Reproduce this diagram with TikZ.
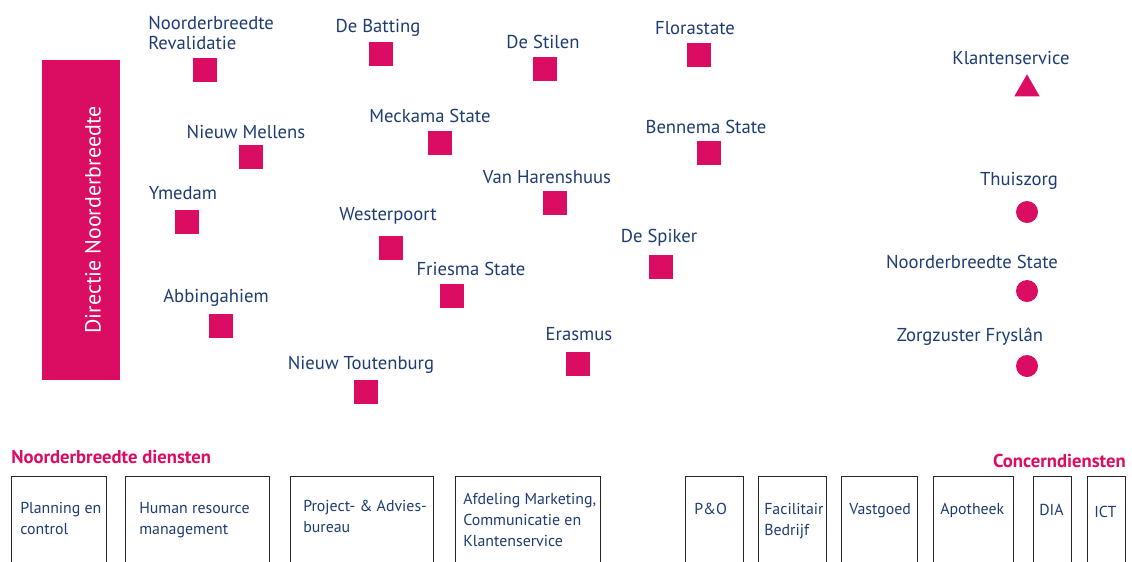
\documentclass[tikz,border=0pt]{standalone}
\usepackage{fontspec}
\setmainfont{PT Sans}
\usetikzlibrary{shapes.geometric}
\definecolor{nbmagenta}{HTML}{DB0D62}
\definecolor{nbnavy}{HTML}{1F3C72}
\tikzset{
  loc/.style={fill=nbmagenta, draw=none, minimum size=18pt, inner sep=0pt},
  circ/.style={circle, fill=nbmagenta, draw=none, minimum size=16.5pt, inner sep=0pt},
  tri/.style={regular polygon, regular polygon sides=3, fill=nbmagenta, draw=none, minimum size=22pt, inner sep=0pt},
  lbl/.style={text=nbnavy, font=\fontsize{14}{15.5}\selectfont, inner sep=0pt, align=left},
  head/.style={text=nbmagenta, font=\fontsize{14}{16}\selectfont\bfseries, inner sep=0pt},
  box/.style={draw=black!85, line width=1.1pt, inner sep=0pt},
  boxtext/.style={text=nbnavy, font=\fontsize{11.9}{15.75}\selectfont, inner sep=0pt, align=left, anchor=north west}
}
\begin{document}
\begin{tikzpicture}[x=0.75pt, y=-0.75pt]
\useasboundingbox (0,0) rectangle (1132,561);
\clip (0,0) rectangle (1132,561);
\fill[white] (0,0) rectangle (1132,561);

% management bar
\node[fill=nbmagenta, minimum width=58.5pt, minimum height=240pt, inner sep=0pt, anchor=north west] (dir) at (42,60) {};
\node[text=white, font=\fontsize{16.5}{18}\selectfont, rotate=90, inner sep=0pt] (dirtext) at (93,220) {Directie Noorderbreedte};

% locations (squares)
\node[loc] (revs) at (205,70) {};
\node[lbl, anchor=west] (revl) at (148,33) {Noorderbreedte\\Revalidatie};
\node[loc] (bats) at (381,54) {};
\node[lbl] (batl) at (378,28) {De Batting};
\node[loc] (stis) at (545,69) {};
\node[lbl] (stil) at (543,42) {De Stilen};
\node[loc] (flos) at (699,55) {};
\node[lbl] (flol) at (695,28) {Florastate};
\node[loc] (meks) at (440,143) {};
\node[lbl] (mekl) at (430,116) {Meckama State};
\node[loc] (mels) at (251,157) {};
\node[lbl] (mell) at (246,132) {Nieuw Mellens};
\node[loc] (bens) at (709,153) {};
\node[lbl] (benl) at (706,127) {Bennema State};
\node[loc] (ymes) at (187,222) {};
\node[lbl] (ymel) at (183,193) {Ymedam};
\node[loc] (hars) at (555,203) {};
\node[lbl] (harl) at (547,177) {Van Harenshuus};
\node[loc] (wess) at (391,248) {};
\node[lbl] (wesl) at (388,216) {Westerpoort};
\node[loc] (spis) at (661,267) {};
\node[lbl] (spil) at (659,238) {De Spiker};
\node[loc] (fris) at (452,296) {};
\node[lbl] (fril) at (471,269) {Friesma State};
\node[loc] (abbs) at (221,326) {};
\node[lbl] (abbl) at (216,298) {Abbingahiem};
\node[loc] (eras) at (578,364) {};
\node[lbl] (eral) at (579,334) {Erasmus};
\node[loc] (tous) at (366,392) {};
\node[lbl] (toul) at (361,365) {Nieuw Toutenburg};

% right column
\node[tri] (klas) at (1027,89) {};
\node[lbl] (klal) at (1011,58) {Klantenservice};
\node[circ] (thus) at (1027,212) {};
\node[lbl] (thul) at (1019,181) {Thuiszorg};
\node[circ] (nbss) at (1027,291) {};
\node[lbl] (nbsl) at (972,262) {Noorderbreedte State};
\node[circ] (zfrs) at (1027,366) {};
\node[lbl] (zfrl) at (970,337) {Zorgzuster Fryslân};

% service headings
\node[head, anchor=west] (nbhead) at (11,457) {Noorderbreedte diensten};
\node[head, anchor=east] (cohead) at (1126,461) {Concerndiensten};

% service boxes
\node[box, anchor=north west, minimum width=71.25pt, minimum height=75pt] (pc) at (11,476) {};
\node[boxtext] (pct) at (20,502) {Planning en\\control};
\node[box, anchor=north west, minimum width=108pt, minimum height=75pt] (hr) at (125,476) {};
\node[boxtext] (hrt) at (139,502) {Human resource\\management};
\node[box, anchor=north west, minimum width=107.25pt, minimum height=75pt] (pa) at (290,476) {};
\node[boxtext] (pat) at (303,500) {Project- \& Advies-\\bureau};
\node[box, anchor=north west, minimum width=108.75pt, minimum height=75pt] (am) at (455,476) {};
\node[boxtext] (amt) at (463,493) {Afdeling Marketing,\\Communicatie en\\Klantenservice};

\node[box, anchor=north west, minimum width=43.5pt, minimum height=75pt] (po) at (685,476) {};
\node[boxtext] (pot) at (694,503) {P\&O};
\node[box, anchor=north west, minimum width=51pt, minimum height=75pt] (fb) at (758,476) {};
\node[boxtext] (fbt) at (764,503) {Facilitair\\Bedrijf};
\node[box, anchor=north west, minimum width=57pt, minimum height=75pt] (vg) at (841,476) {};
\node[boxtext] (vgt) at (849,503) {Vastgoed};
\node[box, anchor=north west, minimum width=60pt, minimum height=75pt] (ap) at (933,476) {};
\node[boxtext] (apt) at (940,503) {Apotheek};
\node[box, anchor=north west, minimum width=28.5pt, minimum height=75pt] (dia) at (1033,476) {};
\node[boxtext] (diat) at (1039,504) {DIA};
\node[box, anchor=north west, minimum width=28.5pt, minimum height=75pt] (ict) at (1087,476) {};
\node[boxtext] (ictt) at (1094,506) {ICT};
\end{tikzpicture}
\end{document}
